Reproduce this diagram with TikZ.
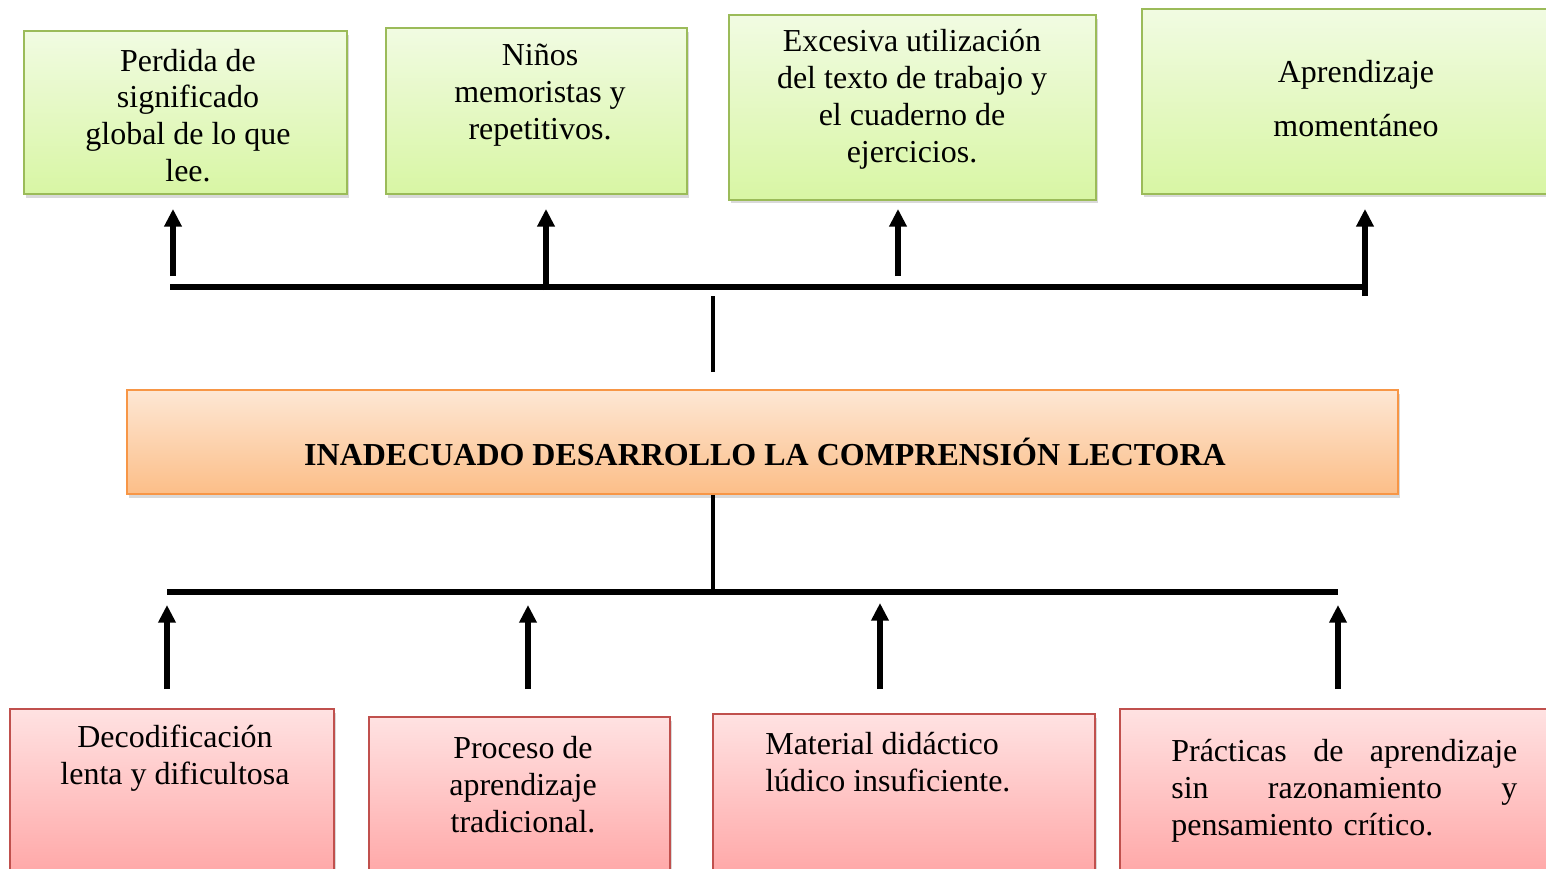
\documentclass[tikz,border=0pt]{standalone}
\usepackage{fontspec}
\setmainfont{Liberation Serif}
\usetikzlibrary{positioning,arrows.meta,shadows}

\definecolor{verdeA}{HTML}{F1FBE2}
\definecolor{verdeB}{HTML}{D8F6A4}
\definecolor{verdeBorde}{HTML}{9BBB59}
\definecolor{naranjaA}{HTML}{FDE7D4}
\definecolor{naranjaB}{HTML}{FCBE88}
\definecolor{naranjaBorde}{HTML}{F79646}
\definecolor{rosaA}{HTML}{FFE2E2}
\definecolor{rosaB}{HTML}{FFA2A2}
\definecolor{rosaBorde}{HTML}{C0504D}

\begin{document}
\begin{tikzpicture}[x=0.02cm, y=-0.02cm, font=\fontsize{18.2pt}{21pt}\selectfont,
  caja/.style = {draw, rectangle, line width=1.1pt, drop shadow={shadow xshift=1.2pt, shadow yshift=-2pt, opacity=.3}},
  efecto/.style = {caja, draw=verdeBorde, top color=verdeA, bottom color=verdeB},
  problema/.style = {caja, draw=naranjaBorde, top color=naranjaA, bottom color=naranjaB},
  causa/.style = {caja, draw=rosaBorde, top color=rosaA, bottom color=rosaB},
  texto/.style = {align=center, inner sep=0pt},
  barra/.style = {line width=2.9pt},
  tallo/.style = {line width=2.1pt},
  flecha/.style = {line width=2.9pt, -{Triangle[width=9.5pt,length=10pt]}}]
    \clip (0,0) rectangle (1546,869);

    % efectos
    \node[efecto, minimum width=6.46cm, minimum height=3.26cm] (e1) at (185.5,112.5) {};
    \node[efecto, minimum width=6.02cm, minimum height=3.32cm] (e2) at (536.5,111) {};
    \node[efecto, minimum width=7.34cm, minimum height=3.70cm] (e3) at (912.5,107.5) {};
    \node[efecto, minimum width=8.36cm, minimum height=3.70cm] (e4) at (1351,101.5) {};
    \node[texto] (te1) at (188,115.5) {Perdida de\\significado\\global de lo que\\lee.};
    \node[texto] (te2) at (540,95) {Niños\\memoristas y\\repetitivos.};
    \node[texto] (te3) at (912,99) {Excesiva utilización\\del texto de trabajo y\\el cuaderno de\\ejercicios.};
    \node[texto] (te4) at (1356,98.5) {Aprendizaje\\[10pt]momentáneo};

    % problema
    \node[problema, minimum width=25.42cm, minimum height=2.08cm] (p) at (762.5,442) {};
    \node[texto, font=\fontsize{18.2pt}{21pt}\selectfont\bfseries] (tp) at (765,452) {INADECUADO DESARROLLO LA COMPRENSIÓN LECTORA};

    % causas
    \node[causa, minimum width=6.48cm, minimum height=3.62cm] (c1) at (172,799.5) {};
    \node[causa, minimum width=6.02cm, minimum height=3.46cm] (c2) at (519.5,803.5) {};
    \node[causa, minimum width=7.64cm, minimum height=3.52cm] (c3) at (904,802) {};
    \node[causa, minimum width=8.80cm, minimum height=3.62cm] (c4) at (1340,799.5) {};
    \node[texto] (tc1) at (175,758.5) {Decodificación\\lenta y dificultosa};
    \node[texto] (tc2) at (523,784.5) {Proceso de\\aprendizaje\\tradicional.};
    \node[texto, align=left, anchor=west] (tc3) at (765,762.5) {Material didáctico\\lúdico insuficiente.};
    \node[texto, align=left, text width=6.92cm, anchor=west] (tc4) at (1171,791) {Prácticas\hfill de\hfill aprendizaje\\sin\hfill razonamiento\hfill y\\pensamiento crítico.};

    % barras y flechas de arriba
    \coordinate (bi) at (170,287);
    \coordinate (bd) at (1362,287);
    \coordinate (s1) at (173,276);
    \coordinate (s2) at (546,290);
    \coordinate (s3) at (898,276);
    \coordinate (s4) at (1365,296);
    \coordinate (pa) at (713,296);
    \draw[barra] (bi) -- (bd);
    \draw[flecha, shorten >=0.28cm] (s1) -- (s1 |- e1.south);
    \draw[flecha, shorten >=0.28cm] (s2) -- (s2 |- e2.south);
    \draw[flecha, shorten >=0.16cm] (s3) -- (s3 |- e3.south);
    \draw[flecha, shorten >=0.28cm] (s4) -- (s4 |- e4.south);
    \draw[tallo, shorten <=0.34cm] (pa |- p.north) -- (pa);

    % barras y flechas de abajo
    \coordinate (ci) at (167,592);
    \coordinate (cd) at (1338,592);
    \coordinate (pb) at (713,592);
    \coordinate (r1) at (167,605);
    \coordinate (r2) at (528,605);
    \coordinate (r3) at (880,603);
    \coordinate (r4) at (1338,605);
    \draw[tallo] (p.south -| pb) -- (pb);
    \draw[barra] (ci) -- (cd);
    \draw[flecha, shorten <=0.38cm] (r1 |- c1.north) -- (r1);
    \draw[flecha, shorten <=0.54cm] (r2 |- c2.north) -- (r2);
    \draw[flecha, shorten <=0.48cm] (r3 |- c3.north) -- (r3);
    \draw[flecha, shorten <=0.38cm] (r4 |- c4.north) -- (r4);
\end{tikzpicture}
\end{document}
